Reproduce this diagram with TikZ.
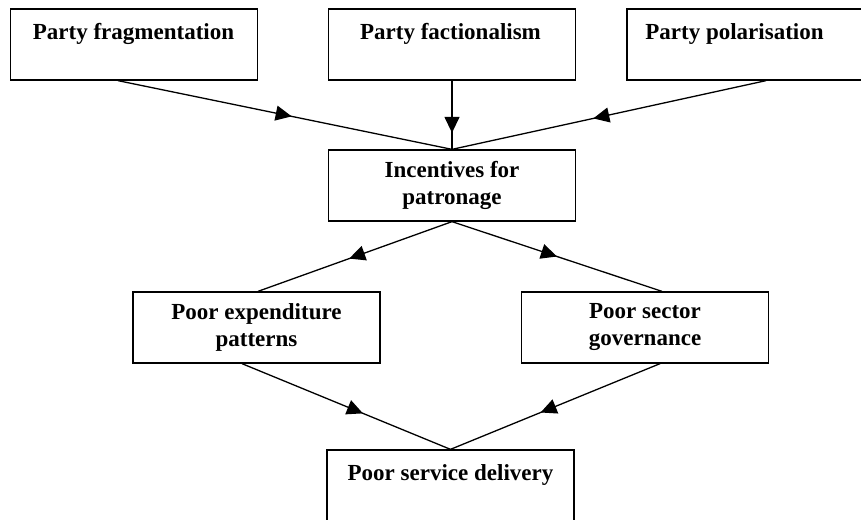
\documentclass[tikz,border=0pt]{standalone}
\usepackage{fontspec}
\setmainfont{Liberation Serif}
\usetikzlibrary{arrows.meta,decorations.markings}
\tikzset{
  box/.style={draw, line width=1.3pt, minimum width=247pt, minimum height=71pt,
    inner sep=0pt, align=center, font=\bfseries\fontsize{23}{27}\selectfont},
  lbl/.style={inner sep=0pt, anchor=base, font=\bfseries\fontsize{23}{27}\selectfont},
  midarrow/.style={line width=1.3pt, postaction={decorate},
    decoration={markings, mark=at position #1 with {\arrow{Triangle[length=16pt,width=15pt]}}}},
}
\begin{document}
\begin{tikzpicture}[x=1pt,y=-1pt]
\useasboundingbox (0,0) rectangle (861,519);
\clip (0,0) rectangle (861,519);
% top row
\node[box] (frag) at (134,44.5) {};
\node[box] (fact) at (452,44.5) {};
\node[box, minimum width=254pt] (pol) at (754,44.5) {};
\node[lbl] (fragt) at (133.5,40) {Party fragmentation};
\node[lbl] (factt) at (450.5,40) {Party factionalism};
\node[lbl] (polt) at (734.5,40) {Party polarisation};
% middle
\node[box] (inc) at (452,185.5) {Incentives for\\patronage};
\node[box] (exp) at (256.5,327.5) {Poor expenditure\\patterns};
\node[box] (gov) at (645,327.5) {Poor sector\\governance};
% bottom
\node[box] (del) at (450.5,485.5) {};
\node[lbl] (delt) at (450.5,480) {Poor service delivery};
% connectors
\draw[midarrow=0.52] ([xshift=-16pt]frag.south) -- (inc.north);
\draw[midarrow=0.76] (fact.south) -- (inc.north);
\draw[midarrow=0.55] ([xshift=12pt]pol.south) -- (inc.north);
\draw[midarrow=0.53] (inc.south) -- ([xshift=1.5pt]exp.north);
\draw[midarrow=0.5] (inc.south) -- ([xshift=17pt]gov.north);
\draw[midarrow=0.58] ([xshift=-14.5pt]exp.south) -- (del.north);
\draw[midarrow=0.57] ([xshift=15pt]gov.south) -- (del.north);
\end{tikzpicture}
\end{document}
